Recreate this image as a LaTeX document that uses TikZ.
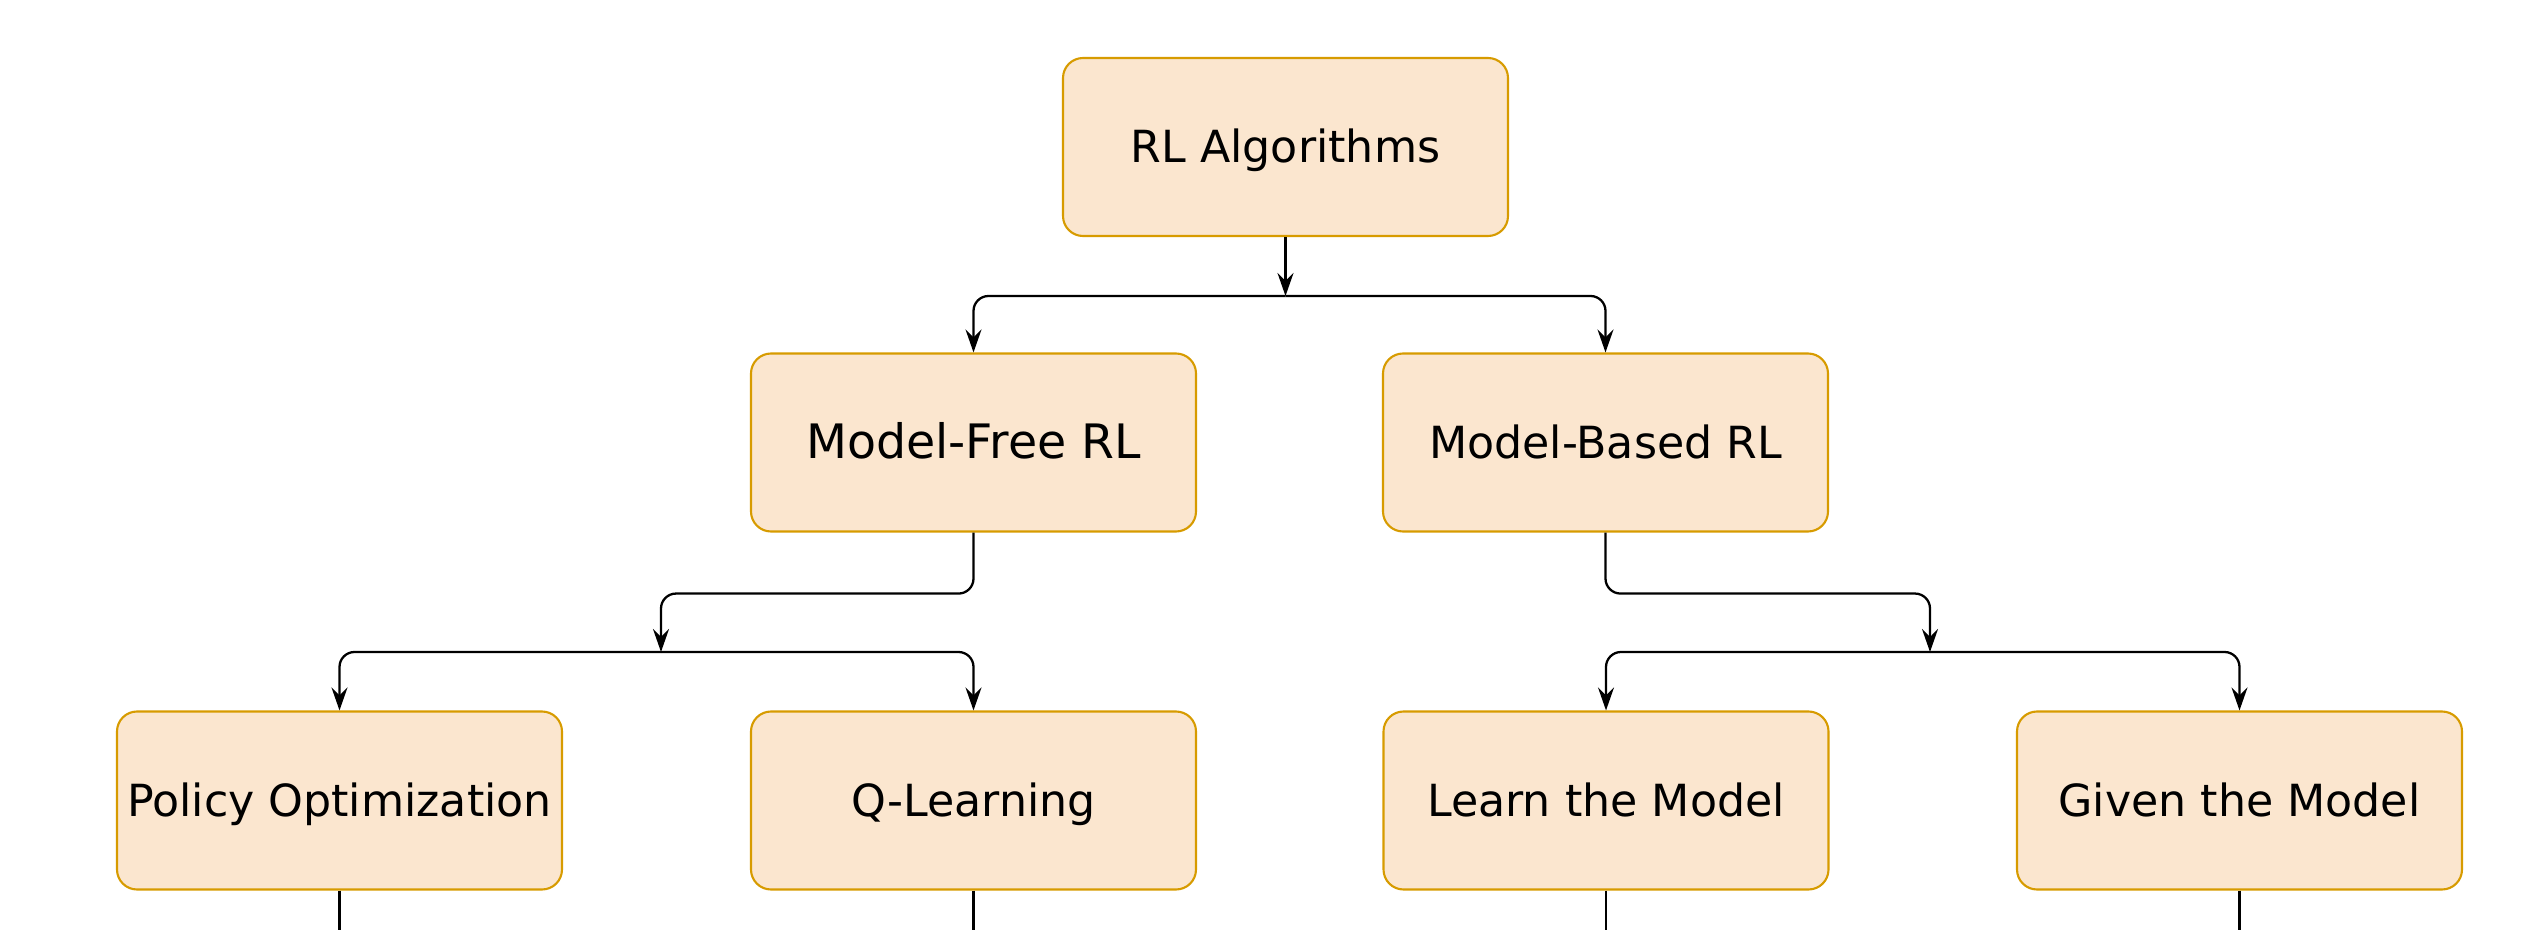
\documentclass[tikz,border=0pt]{standalone}
\usepackage{fontspec}
\setmainfont{DejaVu Sans}
\usetikzlibrary{arrows.meta}
\definecolor{boxfill}{HTML}{FBE6CF}
\definecolor{boxline}{HTML}{D79B00}
\begin{document}
\begin{tikzpicture}[
	box/.style={draw=boxline, fill=boxfill, line width=0.6pt, rounded corners=0.2cm,
		minimum width=4.45cm, minimum height=1.78cm, inner sep=0pt,
		text height=1.2em, text depth=0.3em,
		font=\fontsize{12.6}{15}\selectfont},
	link/.style={line width=0.65pt, rounded corners=0.15cm},
	tip/.style={-{Stealth[length=0.23cm, width=0.16cm, inset=0.08cm]}}
]
	\useasboundingbox (0,0) rectangle (25.48,-9.30);
	
	\node[box] (algo) at (12.855,-1.47) {RL Algorithms};
	\node[box, font=\fontsize{13.5}{16}\selectfont] (free) at (9.735,-4.425) {Model-Free RL};
	\node[box] (based) at (16.055,-4.425) {Model-Based RL};
	\node[box] (policy) at (3.395,-8.005) {Policy Optimization};
	\node[box] (qlearn) at (9.735,-8.005) {Q-Learning};
	\node[box] (learn) at (16.06,-8.005) {Learn the Model};
	\node[box] (given) at (22.395,-8.005) {Given the Model};
	
	\coordinate (hub1) at (12.855,-2.96);
	\coordinate (hub2) at (6.61,-6.52);
	\coordinate (hub3) at (19.30,-6.52);
	\coordinate (edge) at (0,-9.30);
	
	\draw[link, tip] (algo) -- (hub1);
	\draw[link, tip] (hub1) -| (free);
	\draw[link, tip] (hub1) -| (based);
	
	\draw[link, tip] (free.south) -- ++(0,-0.61) -| (hub2);
	\draw[link, tip] (hub2) -| (policy);
	\draw[link, tip] (hub2) -| (qlearn);
	
	\draw[link, tip] (based.south) -- ++(0,-0.61) -| (hub3);
	\draw[link, tip] (hub3) -| (learn);
	\draw[link, tip] (hub3) -| (given);
	
	% lines leaving the picture
	\draw[line width=0.6pt] (policy.south) -- (policy.south |- edge);
	\draw[line width=0.6pt] (qlearn.south) -- (qlearn.south |- edge);
	\draw[line width=0.6pt] (learn.south) -- (learn.south |- edge);
	\draw[line width=0.6pt] (given.south) -- (given.south |- edge);
\end{tikzpicture}
\end{document}
